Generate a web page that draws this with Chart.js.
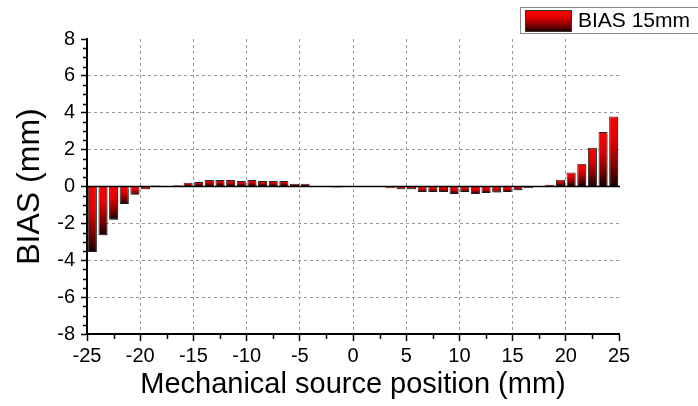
<!DOCTYPE html>
<html>
<head>
<meta charset="utf-8">
<script src="https://cdn.jsdelivr.net/npm/chart.js"></script>
<style>
  html, body { margin: 0; padding: 0; background: #fff; }
</style>
</head>
<body>
<canvas id="chart" width="698" height="406"></canvas>
<script>
// bar centres (mm)
const positions = [
  -24.5, -23.5, -22.5, -21.5, -20.5, -19.5, -18.5, -17.5, -16.5, -15.5,
  -14.5, -13.5, -12.5, -11.5, -10.5, -9.5, -8.5, -7.5, -6.5, -5.5,
  -4.5, -3.5, -2.5, -1.5, -0.5, 0.5, 1.5, 2.5, 3.5, 4.5,
  5.5, 6.5, 7.5, 8.5, 9.5, 10.5, 11.5, 12.5, 13.5, 14.5,
  15.5, 16.5, 17.5, 18.5, 19.5, 20.5, 21.5, 22.5, 23.5, 24.5
];
// BIAS 15mm (mm)
const biasValues = [
  -3.55, -2.65, -1.8, -0.95, -0.45, -0.15, 0.05, 0.02, 0.07, 0.2,
  0.25, 0.35, 0.35, 0.35, 0.3, 0.35, 0.3, 0.3, 0.3, 0.15,
  0.15, 0, 0, -0.05, 0, 0, 0, 0, -0.1, -0.15,
  -0.15, -0.3, -0.3, -0.3, -0.4, -0.3, -0.4, -0.35, -0.33, -0.3,
  -0.2, -0.08, -0.03, 0.1, 0.36, 0.76, 1.23, 2.1, 2.95, 3.8
];
const seriesLabel = "BIAS 15mm";
const xTitle = "Mechanical source position (mm)";
const yTitle = "BIAS (mm)";
const xRange = [-25, 25];
const yRange = [-8, 8];

const FONT = "'Liberation Sans', Arial, sans-serif";

function redToBlack(ctx, top, bottom) {
  const g = ctx.createLinearGradient(0, top, 0, bottom);
  g.addColorStop(0, "#ff0000");
  g.addColorStop(0.35, "#e00000");
  g.addColorStop(0.75, "#700000");
  g.addColorStop(1, "#120000");
  return g;
}

const decor = {
  id: "decor",
  beforeDatasetsDraw(chart) {
    const ctx = chart.ctx;
    // per-bar vertical gradient, red at the top, black at the bottom
    chart.getDatasetMeta(0).data.forEach((bar) => {
      const top = Math.min(bar.y, bar.base), bottom = Math.max(bar.y, bar.base);
      bar.options.backgroundColor = bottom - top < 1 ? "#b00000" : redToBlack(ctx, top, bottom);
    });
    ctx.save();
    ctx.shadowColor = "rgba(0,0,0,0.28)";
    ctx.shadowOffsetX = 2;
    ctx.shadowOffsetY = 2;
    ctx.shadowBlur = 0;
  },
  afterDatasetsDraw(chart) {
    const ctx = chart.ctx;
    ctx.restore();
    const { left, right } = chart.chartArea;
    const y0 = chart.scales.y.getPixelForValue(0);
    ctx.save();
    ctx.strokeStyle = "#000";
    ctx.lineWidth = 1.5;
    ctx.beginPath();
    ctx.moveTo(left, y0);
    ctx.lineTo(right + 1, y0);
    ctx.stroke();
    ctx.restore();
  },
  afterDraw(chart) {
    const ctx = chart.ctx;
    const xs = chart.scales.x, ys = chart.scales.y;
    const { left, bottom } = chart.chartArea;
    ctx.save();
    ctx.strokeStyle = "#000";
    ctx.lineWidth = 1.5;
    ctx.beginPath();
    // minor ticks on y every 0.5
    for (let v = yRange[0]; v <= yRange[1]; v += 0.5) {
      if (v % 2 === 0) continue;
      const y = Math.round(ys.getPixelForValue(v)) + 0.5;
      ctx.moveTo(left - 1, y);
      ctx.lineTo(left - 4, y);
    }
    // minor ticks on x every 2.5
    for (let v = xRange[0]; v <= xRange[1]; v += 2.5) {
      if (v % 5 === 0) continue;
      const x = Math.round(xs.getPixelForValue(v)) + 0.5;
      ctx.moveTo(x, bottom + 1);
      ctx.lineTo(x, bottom + 5);
    }
    ctx.stroke();

    // legend box
    ctx.fillStyle = "#fff";
    ctx.fillRect(520, 7, 200, 26);
    ctx.strokeStyle = "#8a8a8a";
    ctx.lineWidth = 1;
    ctx.strokeRect(520.5, 7.5, 200, 26);
    ctx.fillStyle = redToBlack(ctx, 10, 32);
    ctx.fillRect(525, 10, 47, 22);
    ctx.strokeStyle = "#333";
    ctx.strokeRect(525.5, 10.5, 46, 21);
    ctx.fillStyle = "#000";
    ctx.font = "21px " + FONT;
    ctx.textBaseline = "alphabetic";
    ctx.fillText(seriesLabel, 578, 27);
    ctx.restore();
  }
};

new Chart(document.getElementById("chart"), {
  type: "bar",
  data: {
    datasets: [{
      label: seriesLabel,
      data: positions.map((x, i) => ({ x: x, y: biasValues[i] })),
      // scriptable so each bar keeps its own options object (gradient set in plugin)
      backgroundColor: () => "#c00000",
      borderColor: "#262626",
      borderWidth: 1,
      barPercentage: 0.85,
      categoryPercentage: 1
    }]
  },
  options: {
    responsive: false,
    animation: false,
    layout: { padding: { top: 39, right: 79, left: 0, bottom: 0 } },
    plugins: {
      legend: { display: false },
      tooltip: { enabled: false }
    },
    scales: {
      x: {
        type: "linear",
        min: xRange[0],
        max: xRange[1],
        offset: false,
        afterFit: (scale) => { scale.height = 72; },
        ticks: {
          stepSize: 5,
          color: "#000",
          padding: 3,
          maxRotation: 0,
          font: { family: FONT, size: 20 }
        },
        grid: {
          offset: false,
          color: (c) => (c.tick && (c.tick.value === xRange[0] || c.tick.value === xRange[1])) ? "rgba(0,0,0,0)" : "#9a9a9a",
          lineWidth: 1,
          tickColor: "#000",
          tickWidth: 1.5,
          tickLength: 7
        },
        border: { display: true, color: "#000", width: 2, dash: [3, 3] },
        title: {
          display: true,
          text: xTitle,
          color: "#000",
          font: { family: FONT, size: 29 },
          padding: { top: 0, bottom: 4 }
        }
      },
      y: {
        min: yRange[0],
        max: yRange[1],
        afterFit: (scale) => { scale.width = 87; },
        ticks: {
          stepSize: 2,
          color: "#000",
          padding: 6,
          font: { family: FONT, size: 20 }
        },
        grid: {
          color: (c) => (c.tick && (c.tick.value === yRange[0] || c.tick.value === yRange[1])) ? "rgba(0,0,0,0)" : "#9a9a9a",
          lineWidth: 1,
          tickColor: "#000",
          tickWidth: 1.5,
          tickLength: 6
        },
        border: { display: true, color: "#000", width: 2, dash: [3, 3] },
        title: {
          display: true,
          text: yTitle,
          color: "#000",
          font: { family: FONT, size: 32 },
          padding: { top: 11, bottom: 0 }
        }
      }
    }
  },
  plugins: [decor]
});
</script>
</body>
</html>
